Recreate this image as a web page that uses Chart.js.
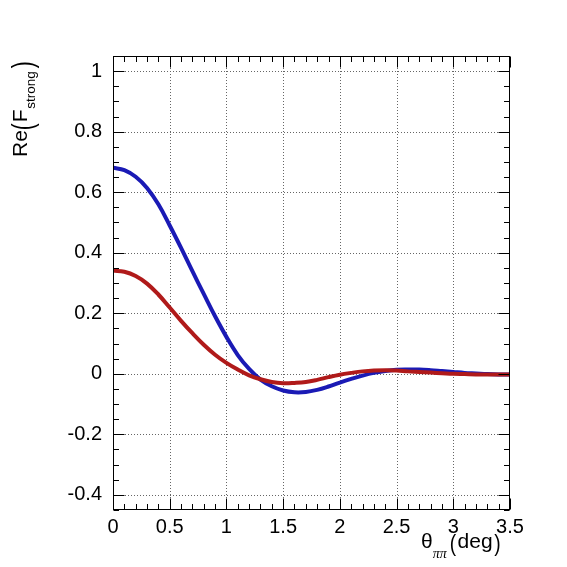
<!DOCTYPE html>
<html>
<head>
<meta charset="utf-8">
<script src="https://cdn.jsdelivr.net/npm/chart.js@4.4.1/dist/chart.umd.min.js"></script>
<style>
html,body{margin:0;padding:0;background:#fff;}
#wrap{width:567px;height:567px;}
</style>
</head>
<body>
<div id="wrap"><canvas id="c" width="567" height="567"></canvas></div>
<script>
// ---- data ----
const thetaDeg = [0,0.1,0.2,0.3,0.4,0.5,0.6,0.7,0.8,0.9,1.0,1.1,1.2,1.3,1.4,1.5,1.6,1.7,1.8,1.9,2.0,2.1,2.2,2.3,2.4,2.5,2.6,2.7,2.8,2.9,3.0,3.1,3.2,3.3,3.4,3.5];
const blueRe = [0.681,0.673,0.651,0.614,0.560,0.490,0.416,0.339,0.264,0.190,0.122,0.062,0.016,-0.019,-0.041,-0.055,-0.061,-0.060,-0.053,-0.042,-0.029,-0.017,-0.006,0.003,0.009,0.013,0.014,0.014,0.012,0.009,0.006,0.003,0.001,-0.001,-0.002,-0.002];
const redRe  = [0.341,0.337,0.323,0.298,0.262,0.219,0.175,0.134,0.096,0.063,0.036,0.014,-0.005,-0.018,-0.027,-0.031,-0.030,-0.027,-0.020,-0.011,-0.003,0.003,0.008,0.011,0.012,0.011,0.008,0.006,0.004,0.002,0.000,-0.001,-0.002,-0.002,-0.002,-0.002];
const xTickValues = [0,0.5,1,1.5,2,2.5,3,3.5];
const xTickLabels = ["0","0.5","1","1.5","2","2.5","3","3.5"];
const yTickValues = [-0.4,-0.2,0,0.2,0.4,0.6,0.8,1];
const yTickLabels = ["-0.4","-0.2","0","0.2","0.4","0.6","0.8","1"];
const xMinorStep = 0.1;
const yMinorStep = 0.05;

const FONT = "'Liberation Sans', Arial, Helvetica, sans-serif";

function toPoints(xs, ys){ return xs.map((x,i)=>({x:x, y:ys[i]})); }

// Frame, grid and inward ticks drawn through the chart's scales
const framePlugin = {
  id: 'rootFrame',
  beforeDatasetsDraw(chart){
    const {ctx, chartArea:a, scales:{x, y}} = chart;
    ctx.save();
    ctx.lineWidth = 1;
    ctx.strokeStyle = '#666';
    ctx.setLineDash([1,2]);
    xTickValues.forEach(v=>{
      const px = Math.round(x.getPixelForValue(v)) + 0.5;
      if (px <= a.left+1 || px >= a.right-1) return;
      ctx.beginPath(); ctx.moveTo(px, a.top); ctx.lineTo(px, a.bottom); ctx.stroke();
    });
    yTickValues.forEach(v=>{
      const py = Math.round(y.getPixelForValue(v)) + 0.5;
      ctx.beginPath(); ctx.moveTo(a.left, py); ctx.lineTo(a.right, py); ctx.stroke();
    });
    ctx.restore();
  },
  afterDatasetsDraw(chart){
    const {ctx, chartArea:a, scales:{x, y}} = chart;
    ctx.save();
    ctx.strokeStyle = '#000';
    ctx.lineWidth = 1;
    ctx.setLineDash([]);
    const l = Math.round(a.left)+0.5, r = Math.round(a.right)-0.5;
    const t = Math.round(a.top)+0.5, b = Math.round(a.bottom)-0.5;
    // x ticks (bottom & top)
    const nx = Math.round((x.max - x.min)/xMinorStep);
    for (let i=0;i<=nx;i++){
      const v = x.min + i*xMinorStep;
      const major = Math.abs(v/0.5 - Math.round(v/0.5)) < 1e-6;
      const len = major ? 11 : 5.5;
      const px = Math.round(x.getPixelForValue(v)) + 0.5;
      ctx.beginPath();
      ctx.moveTo(px, b); ctx.lineTo(px, b-len);
      ctx.moveTo(px, t); ctx.lineTo(px, t+len);
      ctx.stroke();
    }
    // y ticks (left & right)
    const start = Math.ceil(y.min/yMinorStep - 1e-6);
    const end = Math.floor(y.max/yMinorStep + 1e-6);
    for (let k=start;k<=end;k++){
      const v = k*yMinorStep;
      const major = Math.abs(v/0.2 - Math.round(v/0.2)) < 1e-6;
      const len = major ? 11 : 5.5;
      const py = Math.round(y.getPixelForValue(v)) + 0.5;
      ctx.beginPath();
      ctx.moveTo(l, py); ctx.lineTo(l+len, py);
      ctx.moveTo(r, py); ctx.lineTo(r-len, py);
      ctx.stroke();
    }
    ctx.strokeRect(l, t, r-l, b-t);
    ctx.restore();
  },
  afterDraw(chart){
    const ctx = chart.ctx;
    ctx.save();
    ctx.fillStyle = '#000';
    ctx.textBaseline = 'alphabetic';
    ctx.textAlign = 'left';
    // ---- Y title: Re(F_strong), rotated ----
    ctx.save();
    ctx.translate(27, 157);
    ctx.rotate(-Math.PI/2);
    ctx.font = "21px " + FONT;
    let cx = 0;
    ctx.fillText("Re", cx, 0); cx += ctx.measureText("Re").width;
    ctx.save(); ctx.translate(cx, 6); ctx.scale(0.7, 1); ctx.font = "30px " + FONT; ctx.fillText("(", 0, 0);
    const pw = ctx.measureText("(").width*0.7; ctx.restore(); cx += pw + 1;
    ctx.font = "21px " + FONT;
    ctx.fillText("F", cx, 0); cx += ctx.measureText("F").width + 0.5;
    ctx.font = "13.5px " + FONT;
    ctx.fillText("strong", cx, 8); cx += ctx.measureText("strong").width + 3;
    ctx.save(); ctx.translate(cx, 6); ctx.scale(0.7, 1); ctx.font = "30px " + FONT; ctx.fillText(")", 0, 0); ctx.restore();
    ctx.restore();
    // ---- X title: θ_ππ (deg) ----
    ctx.font = "21px " + FONT;
    let xx = 421;
    ctx.fillText("θ", xx, 548); xx += ctx.measureText("θ").width;
    ctx.font = "italic 14px 'Liberation Serif', 'DejaVu Serif', serif";
    ctx.fillText("ππ", xx, 557.5); xx += ctx.measureText("ππ").width + 3;
    ctx.save(); ctx.translate(xx, 551); ctx.scale(0.8, 1); ctx.font = "24px " + FONT; ctx.fillText("(", 0, 0);
    const pw2 = ctx.measureText("(").width*0.8; ctx.restore(); xx += pw2 + 1.5;
    ctx.font = "21px " + FONT;
    ctx.fillText("deg", xx, 548); xx += ctx.measureText("deg").width + 1.5;
    ctx.save(); ctx.translate(xx, 551); ctx.scale(0.8, 1); ctx.font = "24px " + FONT; ctx.fillText(")", 0, 0); ctx.restore();
    ctx.restore();
  }
};

new Chart(document.getElementById('c'), {
  type: 'line',
  data: {
    datasets: [
      { label: 'red', data: toPoints(thetaDeg, redRe), borderColor: '#b01a1a', borderWidth: 4,
        pointRadius: 0, fill: false, tension: 0.4 },
      { label: 'blue', data: toPoints(thetaDeg, blueRe), borderColor: '#1a1ab5', borderWidth: 4,
        pointRadius: 0, fill: false, tension: 0.4 }
    ]
  },
  options: {
    responsive: false,
    animation: false,
    devicePixelRatio: 1,
    layout: { padding: { left: 0, top: 56, right: 57, bottom: 0 } },
    plugins: { legend: { display: false }, tooltip: { enabled: false } },
    scales: {
      x: {
        type: 'linear', min: 0, max: 3.5,
        grid: { display: false, drawTicks: false },
        border: { display: false },
        afterBuildTicks: s => { s.ticks = xTickValues.map(v => ({ value: v })); },
        afterFit: s => { s.height = 57; },
        ticks: { autoSkip: false, maxRotation: 0, padding: 5, color: '#000',
          font: { family: FONT, size: 20 },
          callback: (v, i) => xTickLabels[i] }
      },
      y: {
        type: 'linear', min: -0.45, max: 1.05,
        grid: { display: false, drawTicks: false },
        border: { display: false },
        afterBuildTicks: s => { s.ticks = yTickValues.map(v => ({ value: v })); },
        afterFit: s => { s.width = 113; },
        ticks: { autoSkip: false, padding: 11, color: '#000',
          font: { family: FONT, size: 20 },
          callback: (v, i) => yTickLabels[i] }
      }
    }
  },
  plugins: [framePlugin]
});
</script>
</body>
</html>
